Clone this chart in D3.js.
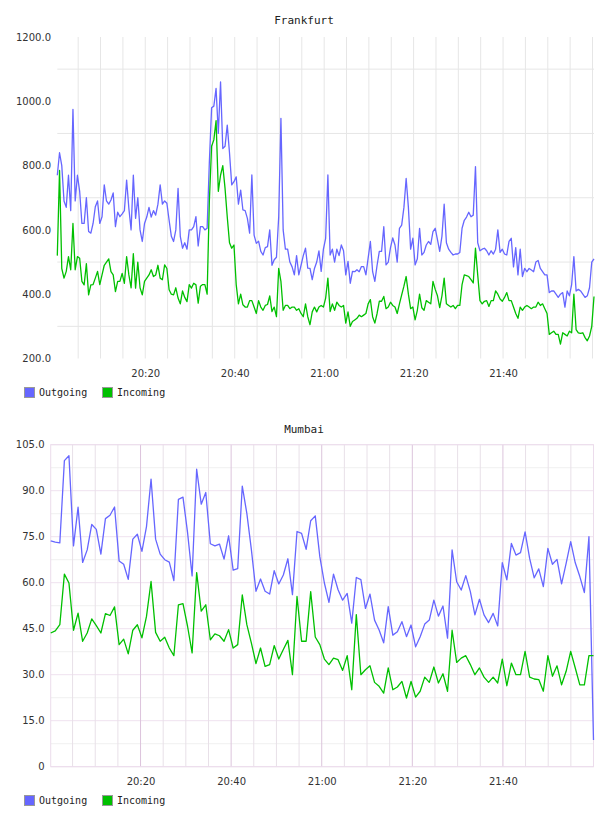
<!DOCTYPE html>
<html>
<head>
<meta charset="utf-8">
<script src="https://cdn.jsdelivr.net/npm/d3@7"></script>
<style>
 body { margin: 0; background: #fff; }
</style>
</head>
<body>
<script>
// *** series names + colours
var seriesNames = ["Outgoing", "Incoming"];
var seriesColors = ["#6666ff", "#00c000"];

// *** Frankfurt: one sample every 30 s starting 20:00:20
var frankStart = "20:00:20";
var frankStepSec = 30;
var frankOut = [
 770, 840, 800, 690, 670, 770, 660, 975, 690, 770, 720, 620, 620, 700, 595, 590, 620, 672, 690, 620,
 641, 740, 690, 680, 693, 715, 610, 655, 641, 650, 660, 755, 667, 600, 770, 636, 700, 600, 564, 620,
 640, 670, 640, 660, 646, 680, 740, 680, 690, 683, 630, 580, 564, 600, 729, 580, 543, 560, 540, 600,
 600,
 610, 641, 550, 610, 610, 600, 605, 812, 980, 985, 1040, 900, 1060, 853, 860, 926, 840, 740, 750, 765,
 680, 724, 662, 660, 636, 590, 771, 584, 558, 565, 533, 522, 545, 548, 600, 490, 507, 515, 640, 947,
 600, 540, 540, 500, 485, 460, 520, 460, 490, 520, 543, 481, 480, 445, 480, 500, 535, 471, 540, 574,
 771, 522, 540, 500, 540, 520, 553, 535, 460, 502, 434, 471, 470, 476, 470, 486, 486, 460, 512, 564,
 470, 440, 490, 533, 533, 610, 491, 500, 545, 575, 553, 500, 605, 615, 670, 760, 670, 540, 574, 491,
 510, 605, 522, 530, 553, 564, 555, 595, 605, 570, 533, 580, 680, 560, 540, 530, 522, 525, 525, 530,
 605, 630, 640, 655, 641, 646, 797, 560, 535, 540, 543, 535, 522, 535, 525, 540, 600, 530, 540, 525,
 522, 564, 574, 485, 545, 460, 540, 455, 480, 470, 480, 475, 470, 500, 505, 480, 470, 460, 460, 405,
 410, 410, 400, 390, 400, 405, 360, 410, 395, 430, 517, 410, 415, 410, 400, 390, 395, 420, 500, 510
];
var frankIn = [
 520, 785, 480, 450, 471, 517, 476, 620, 476, 517, 512, 440, 429, 495, 398, 429, 430, 450, 471, 430,
 460, 490, 500, 510, 470, 460, 408, 440, 440, 465, 434, 517, 460, 420, 526, 419, 500, 420, 398, 440,
 450, 460, 476, 455, 460, 490, 450, 445, 491, 480, 414, 400, 398, 420, 388, 370, 410, 390, 377, 430,
 419,
 434, 429, 372, 425, 430, 430, 400, 690, 860, 880, 940, 720, 770, 800, 730, 640, 560, 543, 553, 430,
 370, 400, 367, 360, 360, 380, 380, 360, 340, 380, 360, 350, 365, 368, 395, 346, 360, 330, 480, 440,
 350, 365, 365, 355, 360, 360, 350, 355, 340, 330, 370, 330, 305, 345, 360, 345, 360, 365, 360, 388,
 450, 346, 370, 350, 375, 365, 360, 365, 310, 345, 300, 315, 320, 325, 335, 330, 335, 340, 370, 383,
 330, 310, 340, 378, 378, 393, 355, 360, 375, 365, 360, 340, 370, 398, 425, 455, 400, 355, 360, 320,
 350, 400, 358, 350, 380, 375, 370, 440, 415, 395, 358, 395, 450, 370, 365, 360, 365, 355, 365, 365,
 430, 460, 458, 455, 445, 435, 543, 460, 380, 370, 378, 380, 362, 380, 380, 410, 400, 385, 378, 390,
 405, 380, 380, 360, 340, 325, 360, 350, 360, 365, 360, 355, 360, 360, 375, 365, 370, 355, 340, 275,
 280, 285, 275, 275, 245, 280, 275, 270, 285, 280, 400, 290, 280, 278, 280, 265, 255, 270, 300, 393
];
var frankYTicks = [200, 400, 600, 800, 1000, 1200];
var frankYGrid = [300, 500, 700, 900, 1100];

// *** Mumbai: one sample roughly every minute starting 20:00:10
var mumStart = "20:00:10";
var mumStepSec = 60.42;
var mumOut = [
 73.6, 73.2, 73.0, 99.8, 101.4, 72.0, 84.6, 66.6, 70.7, 79.0, 77.4, 69.3, 80.9, 82.0, 84.7, 67.1, 66.0, 61.1, 74.2, 75.8,
 70.2, 78.3, 93.8, 74.2, 69.3, 67.5, 66.7, 60.7, 87.2, 87.9, 76.4, 62.2, 97.0, 85.6, 89.4, 72.7, 72.0, 72.6, 67.7, 75.3,
 64.1, 64.6, 91.5, 82.6, 70.7, 57.2, 61.2, 57.2, 56.3, 63.9, 59.6, 62.5, 67.8, 56.1, 76.7, 76.1, 70.9, 80.2, 81.8, 68.5,
 59.9, 53.6, 62.8, 57.7, 54.3, 56.5, 46.8, 61.7, 61.0, 51.6, 56.3, 47.8, 44.6, 40.4, 52.2, 42.9, 44.0, 47.3, 42.4, 46.2,
 39.1, 42.4, 46.5, 47.8, 54.3, 49.1, 52.4, 41.9, 70.7, 60.3, 57.6, 62.3, 57.1, 49.5, 54.6, 49.5, 47.0, 50.0, 45.9, 66.5,
 60.9, 72.8, 69.0, 69.8, 76.6, 67.9, 61.6, 64.5, 58.7, 71.2, 66.0, 67.6, 59.6, 66.3, 73.4, 66.5, 62.0, 56.8, 75.0, 8.7
];
var mumIn = [
 43.6, 44.3, 46.3, 62.8, 59.9, 44.5, 50.1, 40.9, 43.6, 48.2, 46.0, 43.6, 49.9, 49.3, 52.1, 39.8, 41.6, 36.8, 44.5, 46.3,
 42.0, 49.0, 60.4, 43.8, 40.9, 42.2, 38.7, 36.2, 52.8, 53.2, 45.8, 37.1, 63.3, 50.7, 52.8, 41.4, 43.3, 42.7, 40.9, 44.7,
 38.7, 39.8, 56.0, 46.3, 40.3, 33.6, 38.7, 32.7, 33.3, 39.5, 35.1, 38.2, 41.2, 30.0, 55.5, 40.9, 40.9, 57.1, 42.3, 39.8,
 35.1, 33.3, 35.4, 34.9, 31.4, 36.2, 25.1, 49.6, 30.0, 31.6, 32.9, 27.5, 26.2, 24.0, 32.2, 25.1, 26.0, 27.8, 22.4, 27.8,
 22.7, 24.6, 29.2, 27.5, 32.5, 27.3, 30.3, 24.6, 44.5, 34.0, 35.4, 36.2, 33.3, 30.0, 32.2, 29.2, 27.5, 29.2, 27.3, 35.1,
 26.4, 33.8, 30.0, 30.0, 37.6, 29.2, 28.6, 28.4, 24.6, 36.2, 29.5, 32.9, 26.7, 31.1, 37.6, 32.2, 26.7, 26.7, 36.2, 36.2
];
var mumYTicks = [0, 15, 30, 45, 60, 75, 90, 105];
var mumYGrid = [7.5, 22.5, 37.5, 52.5, 67.5, 82.5, 97.5];

// *** shared x tick labels
var xTickLabels = ["20:20", "20:40", "21:00", "21:20", "21:40"];


function parseClock(s) {
 var p = s.split(":");
 return new Date(2020, 0, 1, +p[0], +p[1], +(p[2] || 0));
}

function timesFor(start, stepSec, n) {
 var t0 = parseClock(start).getTime();
 var out = [];
 for (var i = 0; i < n; i++) {
  out.push(new Date(t0 + i * stepSec * 1000));
 }
 return out;
}

var svg = d3.select("body")
 .append("svg")
 .attr("width", 608)
 .attr("height", 816);

function drawPanel(opt) {
 var times = timesFor(opt.start, opt.step, opt.series[0].length);

 var xScale = d3.scaleTime()
  .domain(d3.extent(times))
  .range([opt.left, opt.right]);

 var yScale = d3.scaleLinear()
  .domain(opt.yDomain)
  .range([opt.bottom, opt.top]);

 var g = svg.append("g");

 // minor horizontal grid
 g.selectAll(".hgrid")
  .data(opt.yGrid)
  .enter()
  .append("line")
  .attr("x1", opt.left).attr("x2", opt.right)
  .attr("y1", d => yScale(d)).attr("y2", d => yScale(d))
  .attr("stroke", opt.hGridColor)
  .attr("stroke-width", 1);

 // major horizontal grid (labelled values)
 if (opt.hMajorColor) {
  g.selectAll(".hmajor")
   .data(opt.yTicks)
   .enter()
   .append("line")
   .attr("x1", opt.left).attr("x2", opt.right)
   .attr("y1", d => yScale(d)).attr("y2", d => yScale(d))
   .attr("stroke", opt.hMajorColor)
   .attr("stroke-width", 1);
 }

 // vertical grid every 5 min
 var fiveMin = d3.timeMinute.every(5).range(xScale.domain()[0], xScale.domain()[1]);
 g.selectAll(".vgrid")
  .data(fiveMin)
  .enter()
  .append("line")
  .attr("x1", d => xScale(d)).attr("x2", d => xScale(d))
  .attr("y1", opt.top).attr("y2", opt.bottom)
  .attr("stroke", d => (d.getMinutes() % 20 === 0 && opt.vMajorColor) ? opt.vMajorColor : opt.vGridColor)
  .attr("stroke-width", 1);

 if (opt.border) {
  g.append("rect")
   .attr("x", opt.left).attr("y", opt.top)
   .attr("width", opt.right - opt.left).attr("height", opt.bottom - opt.top)
   .attr("fill", "none")
   .attr("stroke", opt.border)
   .attr("stroke-width", 1);
 }

 // lines
 opt.series.forEach(function(vals, k) {
  var line = d3.line()
   .x((d, i) => xScale(times[i]))
   .y(d => yScale(d));
  g.append("path")
   .datum(vals)
   .attr("d", line)
   .attr("fill", "none")
   .attr("stroke", seriesColors[k])
   .attr("stroke-width", 1.3)
   .attr("stroke-linejoin", "round");
 });

 // y axis
 var yAxis = d3.axisLeft(yScale)
  .tickValues(opt.yTicks)
  .tickSize(0)
  .tickPadding(opt.left - opt.yLabelRight)
  .tickFormat(d => d === 0 ? "0" : d.toFixed(1));
 var ya = g.append("g")
  .attr("transform", "translate(" + opt.left + ",0)")
  .call(yAxis);
 ya.select(".domain").remove();
 ya.selectAll("text")
  .attr("font-family", "DejaVu Sans")
  .attr("font-size", 10)
  .attr("fill", "#333");

 // x axis
 var xAxis = d3.axisBottom(xScale)
  .tickValues(xTickLabels.map(parseClock))
  .tickSize(0)
  .tickPadding(11)
  .tickFormat(d3.timeFormat("%H:%M"));
 var xa = g.append("g")
  .attr("transform", "translate(0," + opt.bottom + ")")
  .call(xAxis);
 xa.select(".domain").remove();
 xa.selectAll("text")
  .attr("font-family", "DejaVu Sans")
  .attr("font-size", 10)
  .attr("fill", "#333");

 // title
 g.append("text")
  .attr("x", 304)
  .attr("y", opt.titleY)
  .attr("text-anchor", "middle")
  .attr("font-family", "DejaVu Sans Mono")
  .attr("font-size", 11)
  .attr("fill", "#222")
  .text(opt.title);

 // legend
 var legendX = [24, 102];
 seriesNames.forEach(function(name, k) {
  g.append("rect")
   .attr("x", legendX[k] + 0.5)
   .attr("y", opt.legendY + 0.5)
   .attr("width", 10)
   .attr("height", 10)
   .attr("fill", seriesColors[k])
   .attr("stroke", "#999");
  g.append("text")
   .attr("x", legendX[k] + 15)
   .attr("y", opt.legendY + 9)
   .attr("font-family", "DejaVu Sans Mono")
   .attr("font-size", 10)
   .attr("fill", "#222")
   .text(name);
 });
}

drawPanel({
 title: "Frankfurt",
 titleY: 24,
 start: frankStart,
 step: frankStepSec,
 series: [frankOut, frankIn],
 left: 57.3, right: 594, top: 37, bottom: 358.5,
 yDomain: [200, 1200],
 yTicks: frankYTicks,
 yGrid: frankYGrid,
 yLabelRight: 51,
 hGridColor: "#e6e6e6",
 vGridColor: "#e6e6e6",
 legendY: 387
});

drawPanel({
 title: "Mumbai",
 titleY: 433,
 start: mumStart,
 step: mumStepSec,
 series: [mumOut, mumIn],
 left: 50.7, right: 593.5, top: 444.7, bottom: 766.7,
 yDomain: [0, 105],
 yTicks: mumYTicks,
 yGrid: mumYGrid,
 yLabelRight: 44.5,
 hGridColor: "#f0f0f0",
 hMajorColor: "#efe2ef",
 vGridColor: "#e8e0e8",
 vMajorColor: "#dcc4dc",
 border: "#ecdcec",
 legendY: 795
});
</script>
</body>
</html>
